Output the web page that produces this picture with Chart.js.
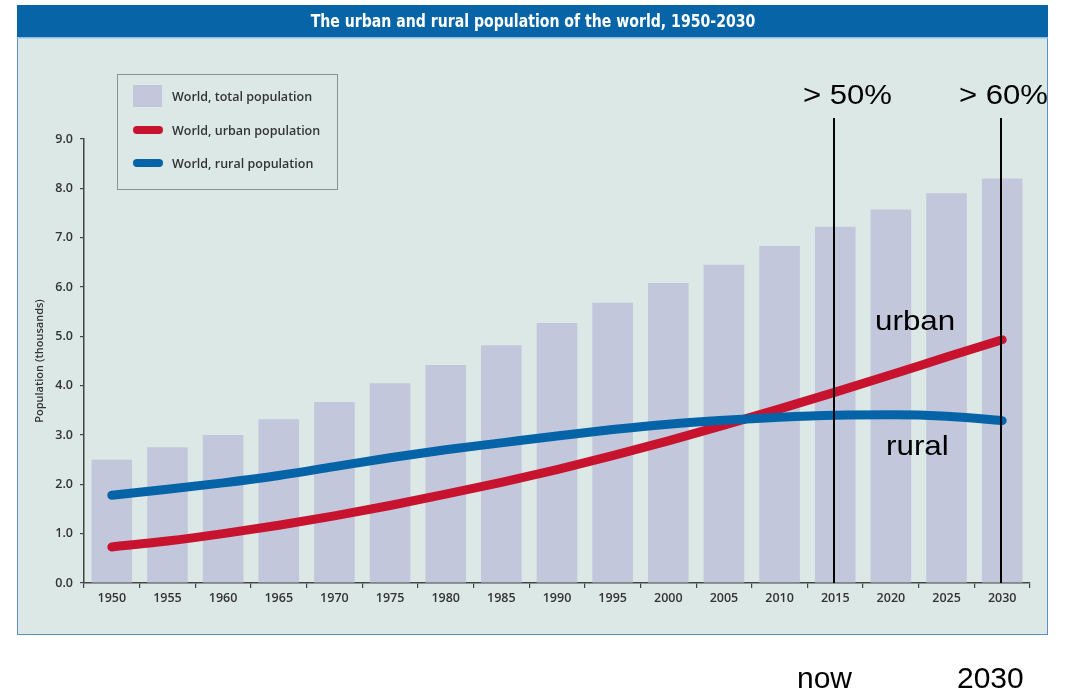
<!DOCTYPE html>
<html>
<head>
<meta charset="utf-8">
<script src="https://cdn.jsdelivr.net/npm/chart.js@4.4.1/dist/chart.umd.min.js"></script>
<style>
  body { margin: 0; background: #fff; }
  #popChart { display: block; }
</style>
</head>
<body>
<canvas id="popChart" width="1069" height="694"></canvas>
<script>
const years = ['1950', '1955', '1960', '1965', '1970', '1975', '1980', '1985', '1990',
  '1995', '2000', '2005', '2010', '2015', '2020', '2025', '2030'];
const totalPop = [2.5, 2.75, 3.0, 3.32, 3.67, 4.05, 4.42, 4.82, 5.27, 5.68, 6.08, 6.45, 6.83, 7.22, 7.57, 7.9, 8.2];
const urbanPop = [0.73, 0.85, 1.0, 1.17, 1.36, 1.57, 1.8, 2.04, 2.3, 2.58, 2.88, 3.2, 3.53, 3.87, 4.22, 4.58, 4.93];
const ruralPop = [1.78, 1.9, 2.03, 2.18, 2.36, 2.54, 2.7, 2.84, 2.98, 3.11, 3.22, 3.3, 3.36, 3.4, 3.41, 3.38, 3.29];
const yTicks = [0, 1, 2, 3, 4, 5, 6, 7, 8, 9];
const markYears = ['2015', '2030'];
const markLabels = ['> 50%', '> 60%'];

const labelFont = '"Open Sans", "DejaVu Sans", sans-serif';
const annoFont = '"Liberation Sans", Arial, sans-serif';

// text drawn a little wider than the font, like the original overlay
function wideText(c, text, x, y, sx) {
  c.save();
  c.translate(x, y);
  c.scale(sx, 1);
  c.fillText(text, 0, 0);
  c.restore();
}

// panel, title bar, legend box and the hand-written notes
const decorPlugin = {
  id: 'decor',
  beforeDraw(chart) {
    const c = chart.ctx;
    c.save();
    c.fillStyle = '#ffffff';
    c.fillRect(0, 0, chart.width, chart.height);
    c.fillStyle = '#dce8e6';
    c.fillRect(17, 5, 1031, 630);
    c.strokeStyle = '#5e90bf';
    c.lineWidth = 1;
    c.strokeRect(17.5, 5.5, 1030, 629);
    c.fillStyle = '#0764a6';
    c.fillRect(17, 5, 1031, 33);
    c.fillStyle = '#8cc2e6';
    c.fillRect(17, 37, 1031, 1.5);
    c.fillStyle = '#ffffff';
    c.font = 'bold 18px "DejaVu Sans Condensed", "Liberation Sans", sans-serif';
    c.textAlign = 'center';
    c.textBaseline = 'middle';
    c.save();
    c.translate(533, 22);
    c.scale(0.87, 1);
    c.fillText('The urban and rural population of the world, 1950-2030', 0, 0);
    c.restore();

    // legend
    c.strokeStyle = '#8a9294';
    c.lineWidth = 1;
    c.strokeRect(117.5, 74.5, 220, 115);
    const rows = [96, 130, 163];
    c.font = '600 12.5px ' + labelFont;
    c.textAlign = 'left';
    chart.data.datasets.forEach((ds, i) => {
      const y = rows[i];
      if (ds.type === 'bar') {
        c.fillStyle = ds.backgroundColor;
        c.fillRect(133, y - 11, 29, 22);
      } else {
        c.strokeStyle = ds.borderColor;
        c.lineWidth = 8;
        c.lineCap = 'round';
        c.beginPath();
        c.moveTo(137, y);
        c.lineTo(159, y);
        c.stroke();
      }
      c.fillStyle = '#333';
      c.fillText(ds.label, 172, y + 1);
    });
    c.restore();
  },
  afterDatasetsDraw(chart) {
    const c = chart.ctx;
    const x = chart.scales.x;
    const area = chart.chartArea;
    c.save();
    c.strokeStyle = '#000';
    c.lineWidth = 2;
    markYears.forEach(yr => {
      const px = Math.round(x.getPixelForValue(years.indexOf(yr))) - 1;
      c.beginPath();
      c.moveTo(px, 118);
      c.lineTo(px, area.bottom);
      c.stroke();
    });
    c.fillStyle = '#000';
    c.textBaseline = 'alphabetic';
    c.textAlign = 'left';
    c.font = '28px ' + annoFont;
    wideText(c, markLabels[0], 803, 104, 1.11);
    wideText(c, markLabels[1], 959, 104, 1.11);
    wideText(c, 'urban', 875, 330, 1.12);
    wideText(c, 'rural', 886, 455, 1.12);
    c.font = '30px ' + annoFont;
    c.fillText('now', 797, 688);
    c.fillText('2030', 957, 688);
    c.restore();
  }
};

const ctx = document.getElementById('popChart');
new Chart(ctx, {
  data: {
    labels: years,
    datasets: [{
      type: 'bar',
      label: 'World, total population',
      data: totalPop,
      backgroundColor: '#c3c7dc',
      barPercentage: 0.73,
      categoryPercentage: 1,
      order: 3
    }, {
      type: 'line',
      label: 'World, urban population',
      data: urbanPop,
      borderColor: '#c8132f',
      borderWidth: 9,
      borderCapStyle: 'round',
      cubicInterpolationMode: 'monotone',
      pointRadius: 0,
      order: 2
    }, {
      type: 'line',
      label: 'World, rural population',
      data: ruralPop,
      borderColor: '#0563a8',
      borderWidth: 9,
      borderCapStyle: 'round',
      cubicInterpolationMode: 'monotone',
      pointRadius: 0,
      order: 1
    }]
  },
  options: {
    responsive: false,
    animation: false,
    devicePixelRatio: 1,
    layout: { padding: { top: 139, right: 39, left: 0, bottom: 0 } },
    plugins: {
      legend: { display: false },
      tooltip: { enabled: false }
    },
    scales: {
      x: {
        type: 'category',
        offset: true,
        afterFit: (s) => { s.height = 111; },
        grid: { offset: true, drawOnChartArea: false, tickLength: 5, color: '#444', lineWidth: 1.2 },
        border: { display: true, color: '#444', width: 1.5 },
        ticks: { color: '#333', font: { family: labelFont, size: 12.5, weight: '600' }, padding: 3, maxRotation: 0, autoSkip: false }
      },
      y: {
        min: yTicks[0],
        max: yTicks[yTicks.length - 1],
        afterFit: (s) => { s.width = 84; },
        afterBuildTicks: (s) => { s.ticks = yTicks.map(v => ({ value: v })); },
        grid: { drawOnChartArea: false, tickLength: 4, color: '#444', lineWidth: 1.2 },
        border: { display: true, color: '#444', width: 1.5 },
        ticks: {
          color: '#333',
          font: { family: labelFont, size: 12.5, weight: '600' },
          padding: 7,
          callback: (v) => Number(v).toFixed(1)
        },
        title: {
          display: true,
          text: 'Population (thousands)',
          color: '#333',
          font: { family: labelFont, size: 11, weight: '600' },
          padding: { top: 33, bottom: 0 }
        }
      }
    }
  },
  plugins: [decorPlugin]
});
</script>
</body>
</html>
